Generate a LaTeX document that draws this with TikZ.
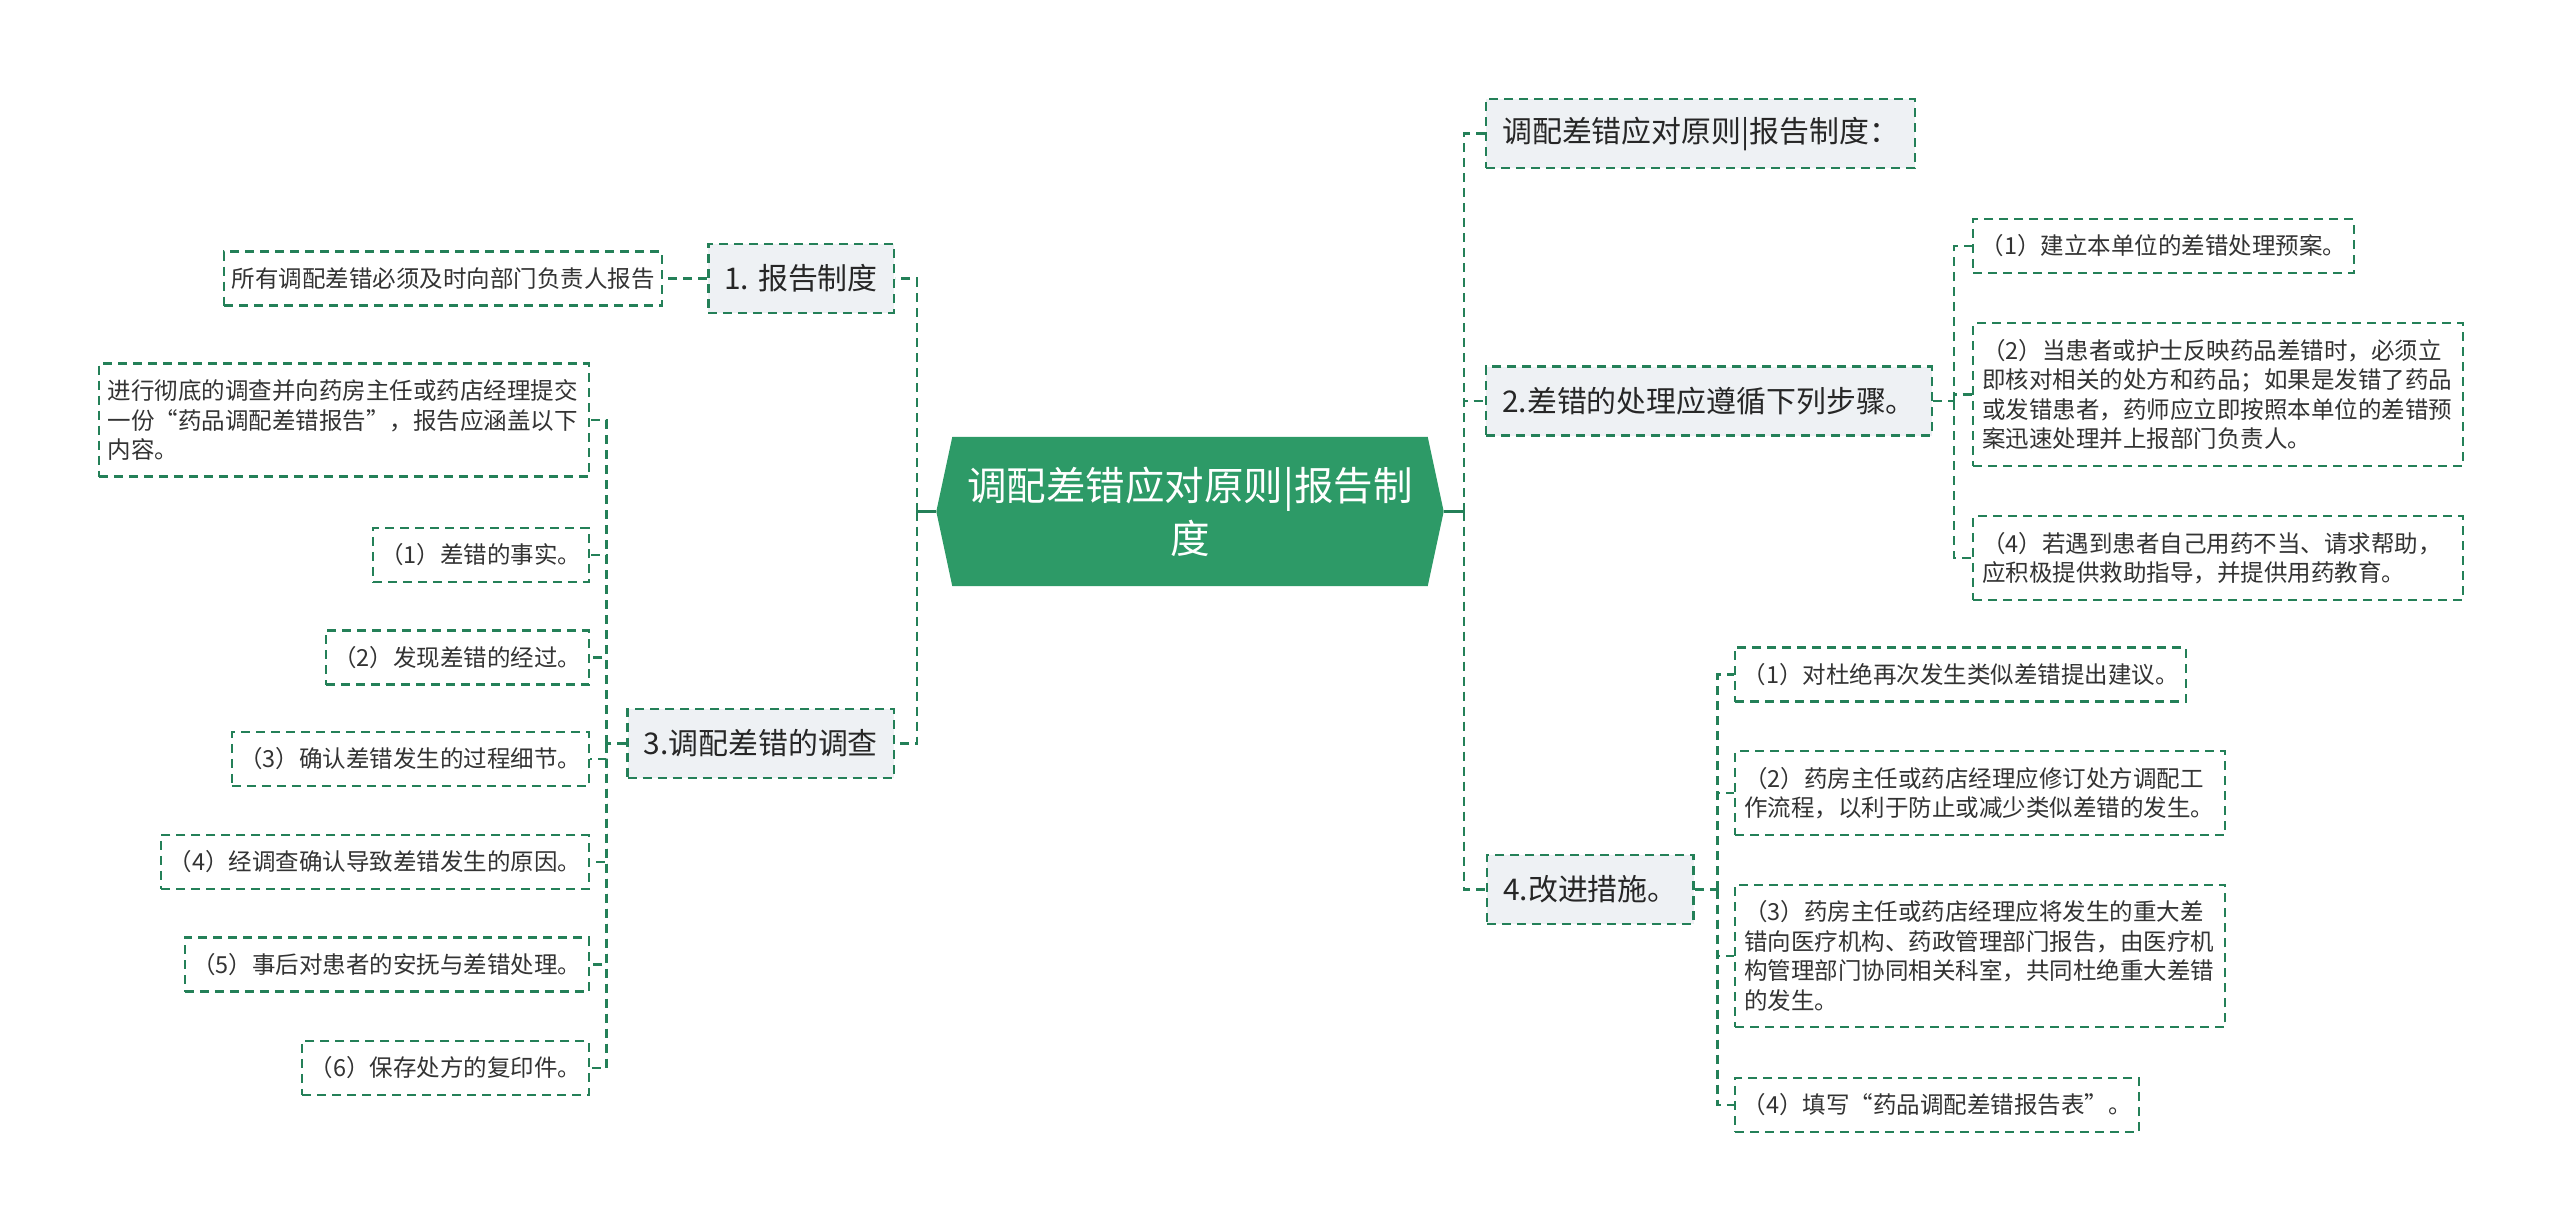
\documentclass[tikz,border=0pt]{standalone}
\usepackage{fontspec}
\setmainfont{Noto Sans CJK SC}
\usetikzlibrary{positioning,backgrounds}
\definecolor{hubgreen}{RGB}{45,154,103}
\definecolor{linegreen}{RGB}{36,128,88}
\definecolor{topicgrey}{RGB}{238,241,244}
\definecolor{inkgrey}{RGB}{51,51,51}
\tikzstyle{hub}=[minimum width=475pt, minimum height=149pt, inner sep=0pt, text=white, align=center, font=\fontsize{39.5}{53}\selectfont]
\tikzstyle{topic}=[draw=linegreen, line width=2.4pt, dash pattern=on 9pt off 6pt, fill=topicgrey, inner xsep=16pt, minimum height=69pt, text=black!85, font=\fontsize{29.9}{36}\selectfont]
\tikzstyle{leaf}=[draw=linegreen, line width=2.2pt, dash pattern=on 9pt off 6pt, fill=white, inner xsep=7.5pt, minimum height=54pt, text=inkgrey, font=\fontsize{23.5}{29.5}\selectfont]
\tikzstyle{para}=[leaf, text width=472pt, inner xsep=9pt, align=left]
\tikzstyle{link}=[draw=linegreen, line width=2.4pt, dash pattern=on 9pt off 6pt]
\tikzstyle{trunk}=[draw=linegreen, line width=3pt]
\tikzset{nlines/.style={minimum height=24.5pt+29.5pt*#1}}

\begin{document}
\begin{tikzpicture}[x=1pt, y=-1pt, node distance=44pt]
    \path[use as bounding box] (0,0) rectangle (2560,1229);

    \node [hub] (ctr) at (1190,511.5) {调配差错应对原则|报告制\\度};
    \begin{pgfonlayer}{background}
    \fill[white] (0,0) rectangle (2560,1229);
    \fill[hubgreen] (ctr.north west) -- (ctr.north east) -- ([xshift=16pt]ctr.east)
        -- (ctr.south east) -- (ctr.south west) -- ([xshift=-16pt]ctr.west) -- cycle;
    \end{pgfonlayer}
    \coordinate (ctrR) at (1464,511.5);
    \coordinate (ctrL) at (917,511.5);

    \node [topic, anchor=west] (R0) at (1485,133.5) {调配差错应对原则|报告制度：};
    \node [topic, anchor=west] (R1) at (1485,401) {2.差错的处理应遵循下列步骤。};
    \node [topic, anchor=west] (R2) at (1486,889.5) {4.改进措施。};

    \node [leaf, anchor=west] (R1a) at (1972,246) {（1）建立本单位的差错处理预案。};
    \node [para, nlines=4, anchor=west] (R1b) at (1972,394.5) {（2）当患者或护士反映药品差错时，必须立\\即核对相关的处方和药品；如果是发错了药品\\或发错患者，药师应立即按照本单位的差错预\\案迅速处理并上报部门负责人。};
    \node [para, nlines=2, anchor=west] (R1c) at (1972,558) {（4）若遇到患者自己用药不当、请求帮助，\\应积极提供救助指导，并提供用药教育。};

    \node [leaf, anchor=west] (R2a) at (1734,674.5) {（1）对杜绝再次发生类似差错提出建议。};
    \node [para, nlines=2, anchor=west] (R2b) at (1734,793) {（2）药房主任或药店经理应修订处方调配工\\作流程，以利于防止或减少类似差错的发生。};
    \node [para, nlines=4, anchor=west] (R2c) at (1734,956) {（3）药房主任或药店经理应将发生的重大差\\错向医疗机构、药政管理部门报告，由医疗机\\构管理部门协同相关科室，共同杜绝重大差错\\的发生。};
    \node [leaf, anchor=west] (R2d) at (1734,1105) {（4）填写“药品调配差错报告表”。};

    \node [topic, anchor=east] (L1) at (895,278.5) {1. 报告制度};
    \node [leaf, left=of L1] (L1a) {所有调配差错必须及时向部门负责人报告};
    \node [topic, anchor=east] (L2) at (895,743.5) {3.调配差错的调查};

    \node [para, nlines=3, anchor=east] (L2a) at (590,420) {进行彻底的调查并向药房主任或药店经理提交\\一份“药品调配差错报告”，报告应涵盖以下\\内容。};
    \node [leaf, anchor=east] (L2b) at (590,555) {（1）差错的事实。};
    \node [leaf, anchor=east] (L2c) at (590,657.5) {（2）发现差错的经过。};
    \node [leaf, anchor=east] (L2d) at (590,759) {（3）确认差错发生的过程细节。};
    \node [leaf, anchor=east] (L2e) at (590,862) {（4）经调查确认导致差错发生的原因。};
    \node [leaf, anchor=east] (L2f) at (590,964.5) {（5）事后对患者的安抚与差错处理。};
    \node [leaf, anchor=east] (L2g) at (590,1068) {（6）保存处方的复印件。};

    \draw[trunk] ([xshift=16pt]ctr.east) -- (ctrR);
    \draw[trunk] ([xshift=-16pt]ctr.west) -- (ctrL);
    \foreach \kid in {R0,R1,R2}
        \draw[link] (ctrR) |- (\kid.west);
    \foreach \kid in {L1,L2}
        \draw[link] (ctrL) |- (\kid.east);

    \draw[link] (R1.east) -- ++(21,0) coordinate (r1fork);
    \foreach \kid in {R1a,R1b,R1c}
        \draw[link] (r1fork) |- (\kid.west);
    \draw[link] (R2.east) -- ++(22.5,0) coordinate (r2fork);
    \foreach \kid in {R2a,R2b,R2c,R2d}
        \draw[link] (r2fork) |- (\kid.west);

    \draw[link] (L1.west) -- (L1a.east);
    \draw[link] (L2.west) -- ++(-20,0) coordinate (l2fork);
    \foreach \kid in {L2a,L2b,L2c,L2d,L2e,L2f,L2g}
        \draw[link] (l2fork) |- (\kid.east);
\end{tikzpicture}
\end{document}
